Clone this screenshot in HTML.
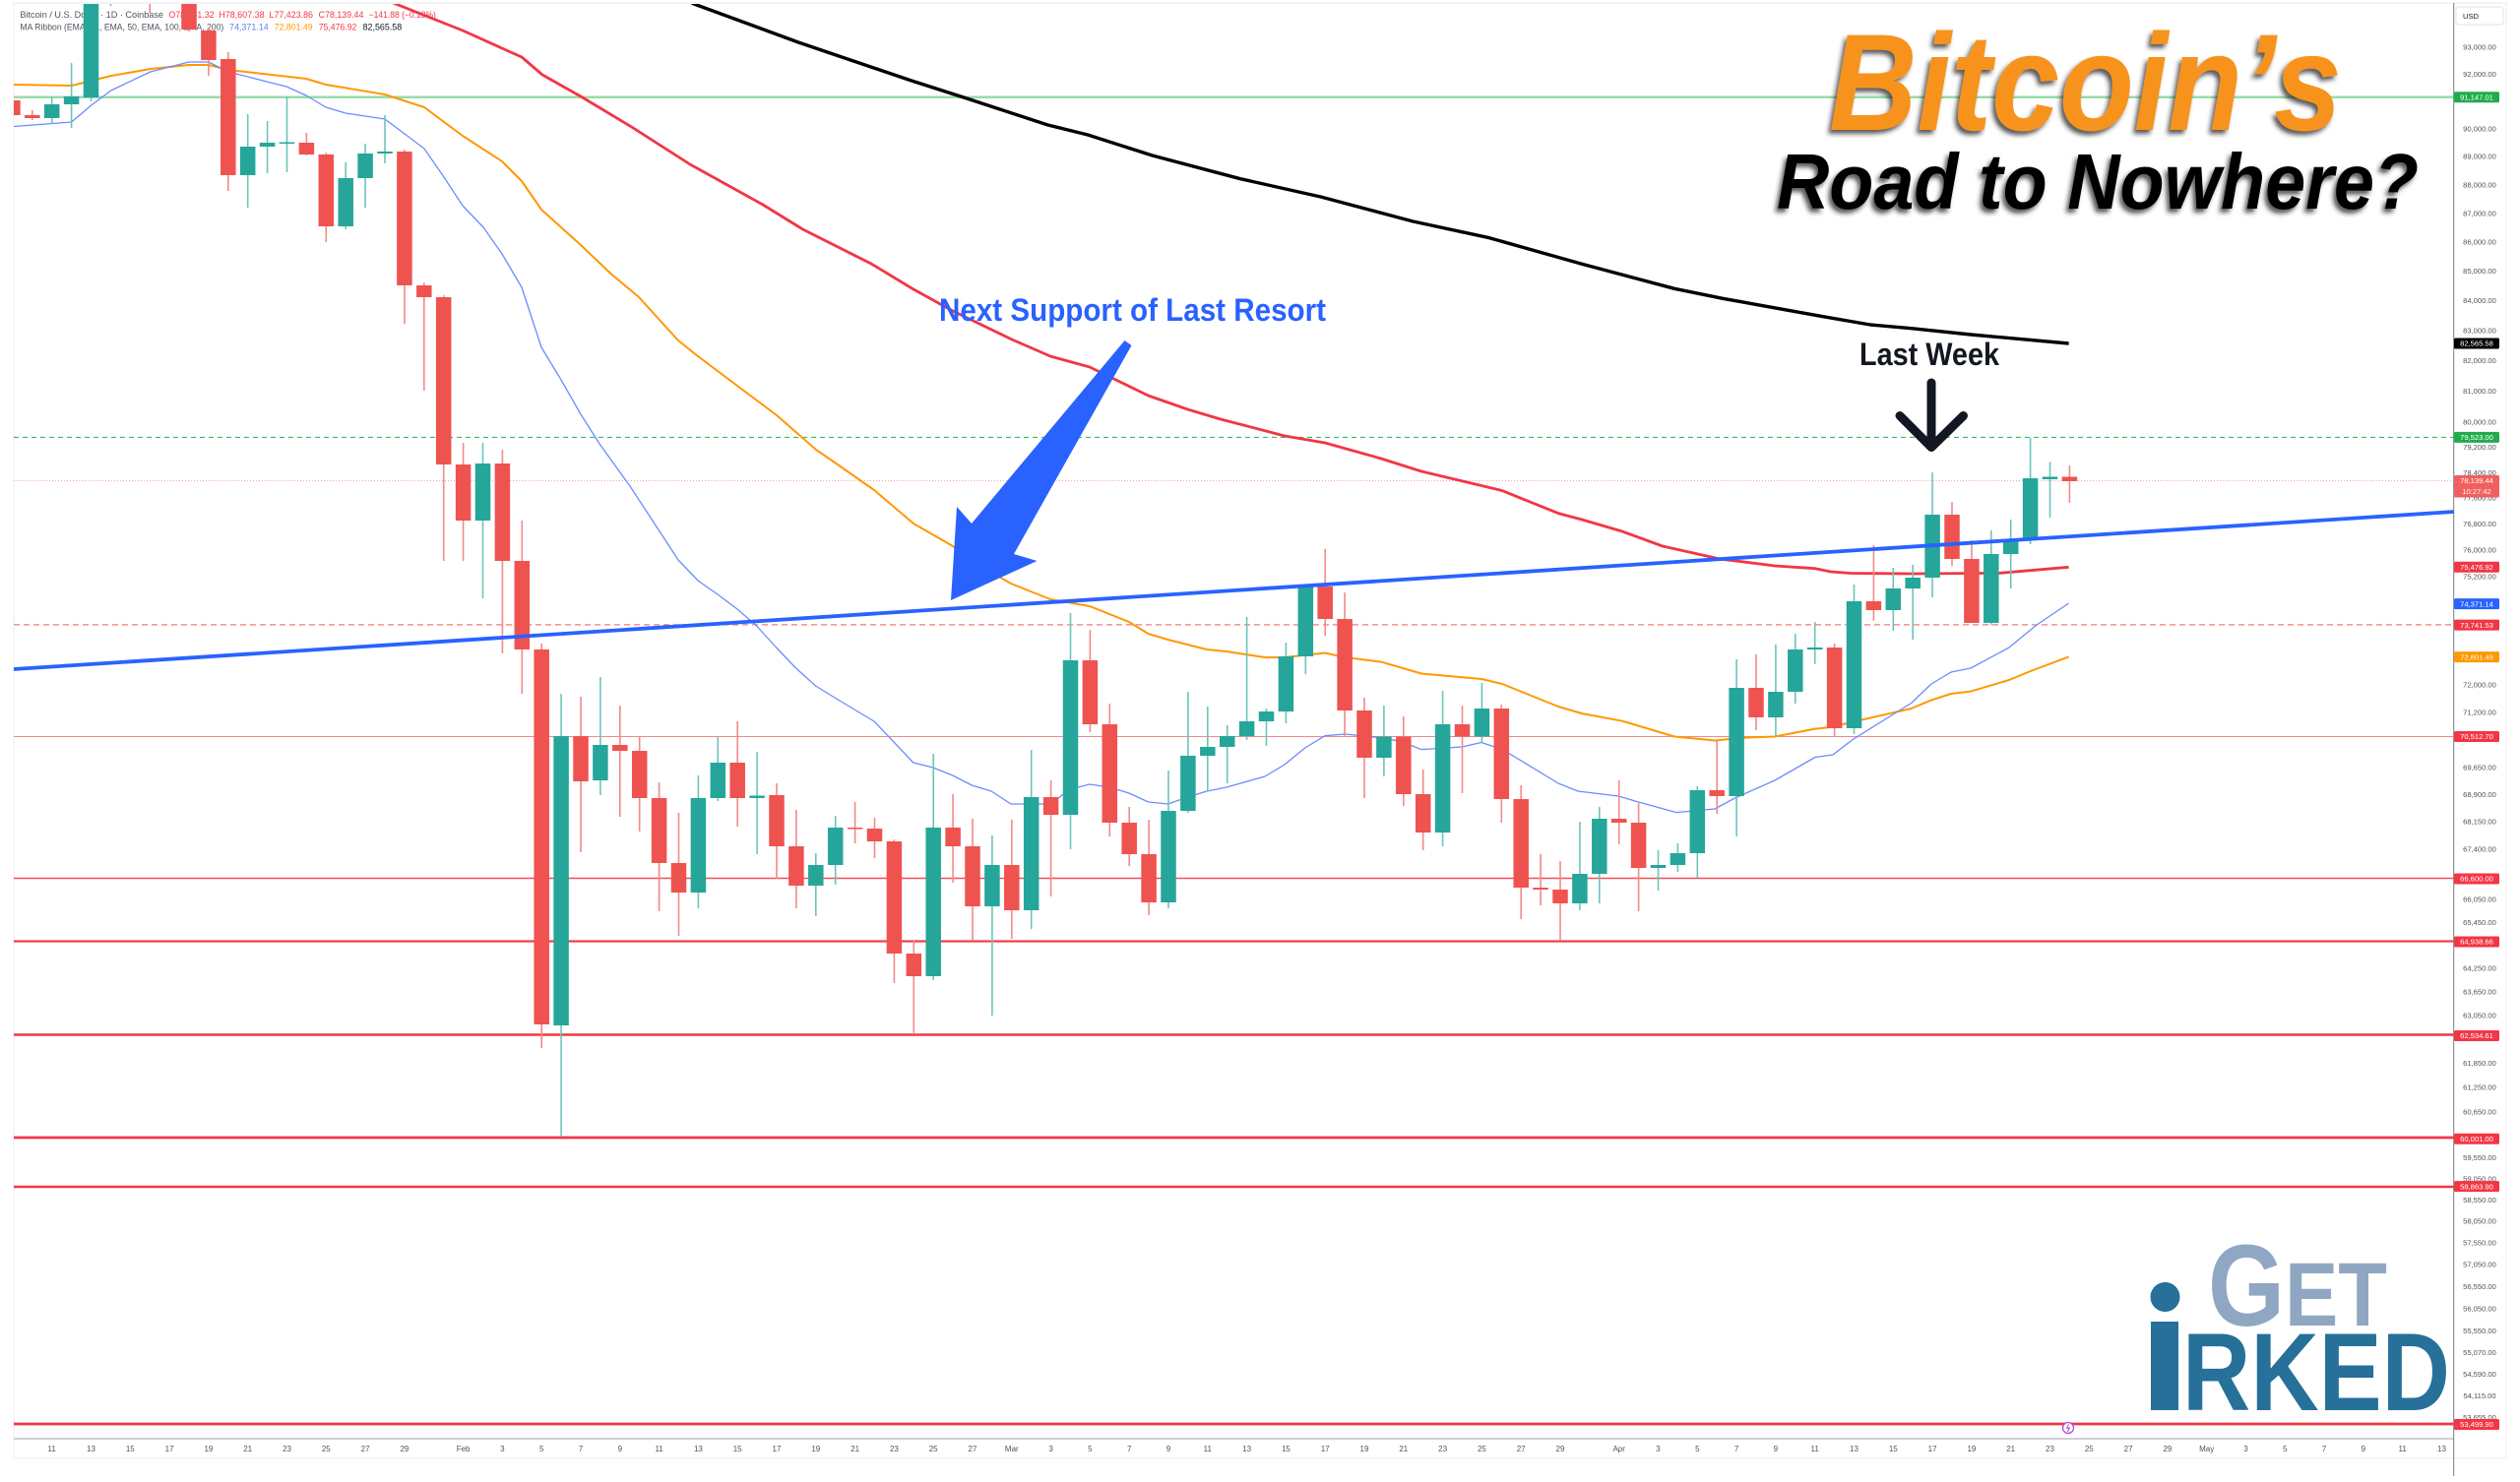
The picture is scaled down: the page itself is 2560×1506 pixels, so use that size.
<!DOCTYPE html>
<html><head><meta charset="utf-8">
<style>
html,body{margin:0;padding:0;background:#fff;}
svg{display:block;}
.g line{stroke:#6cc4bb;stroke-width:1.6}
.g rect{fill:#26a69a}
.r line{stroke:#f3898a;stroke-width:1.6}
.r rect{fill:#ef5350}
.ax{font-family:"Liberation Sans",sans-serif;font-size:7.6px;fill:#50535e;text-anchor:middle}
.bd{font-family:"Liberation Sans",sans-serif;font-size:7.6px;fill:#fff;text-anchor:middle}
.dt{font-family:"Liberation Sans",sans-serif;font-size:8px;fill:#50535e;text-anchor:middle}
.lg{font-family:"Liberation Sans",sans-serif;font-size:8.8px}
</style></head><body>
<svg width="2560" height="1506" viewBox="0 0 2560 1506" xmlns="http://www.w3.org/2000/svg">
<defs>
<clipPath id="pc"><rect x="14" y="4" width="2478.7" height="1457.5"/></clipPath>
<filter id="sh" x="-10%" y="-20%" width="125%" height="150%"><feDropShadow dx="-3" dy="4" stdDeviation="2.5" flood-color="#222" flood-opacity="0.75"/></filter>
</defs>
<rect x="0" y="0" width="2560" height="1506" fill="#fff"/>
<!-- panel borders -->
<line x1="14" y1="3" x2="2546" y2="3" stroke="#e6e8ee" stroke-width="1"/>
<line x1="14" y1="3" x2="14" y2="1482" stroke="#eceef2" stroke-width="1"/>
<line x1="2546" y1="3" x2="2546" y2="1482" stroke="#eceef2" stroke-width="1"/>
<line x1="14" y1="1482" x2="2546" y2="1482" stroke="#eceef2" stroke-width="1"/>

<!-- legend -->
<text class="lg" x="20.4" y="18" textLength="145.6" lengthAdjust="spacingAndGlyphs" fill="#50535e">Bitcoin / U.S. Dollar · 1D · Coinbase</text>
<text class="lg" x="171.4" y="18" textLength="46.2" lengthAdjust="spacingAndGlyphs" fill="#f23645">O78,281.32</text>
<text class="lg" x="222.4" y="18" textLength="46.2" lengthAdjust="spacingAndGlyphs" fill="#f23645">H78,607.38</text>
<text class="lg" x="273.5" y="18" textLength="44.5" lengthAdjust="spacingAndGlyphs" fill="#f23645">L77,423.86</text>
<text class="lg" x="323.7" y="18" textLength="45.7" lengthAdjust="spacingAndGlyphs" fill="#f23645">C78,139.44</text>
<text class="lg" x="374.7" y="18" textLength="68.2" lengthAdjust="spacingAndGlyphs" fill="#f23645">−141.88 (−0.18%)</text>
<text class="lg" x="20.4" y="30.7" textLength="206.9" lengthAdjust="spacingAndGlyphs" fill="#50535e">MA Ribbon (EMA, 21, EMA, 50, EMA, 100, EMA, 200)</text>
<text class="lg" x="233" y="30.7" textLength="39.7" lengthAdjust="spacingAndGlyphs" fill="#5b7fff">74,371.14</text>
<text class="lg" x="278.8" y="30.7" textLength="38.8" lengthAdjust="spacingAndGlyphs" fill="#ff9800">72,801.49</text>
<text class="lg" x="323.7" y="30.7" textLength="38.7" lengthAdjust="spacingAndGlyphs" fill="#f23645">75,476.92</text>
<text class="lg" x="368.6" y="30.7" textLength="39.6" lengthAdjust="spacingAndGlyphs" fill="#131722">82,565.58</text>

<g clip-path="url(#pc)">
<!-- horizontal levels -->
<line x1="14" y1="98.7" x2="2493" y2="98.7" stroke="#98dcaa" stroke-width="2.5"/>
<line x1="14" y1="444.4" x2="2493" y2="444.4" stroke="#22b04f" stroke-width="1" stroke-dasharray="5 4"/>
<line x1="14" y1="488.5" x2="2493" y2="488.5" stroke="#f5a3a3" stroke-width="1" stroke-dasharray="1 2"/>
<line x1="14" y1="634.9" x2="2493" y2="634.9" stroke="#f27a7a" stroke-width="1.2" stroke-dasharray="6 4"/>
<line x1="14" y1="748.5" x2="2493" y2="748.5" stroke="#f08a8a" stroke-width="1"/>
<line x1="14" y1="892.5" x2="2493" y2="892.5" stroke="#f0505a" stroke-width="1.5"/>
<line x1="14" y1="956.5" x2="2493" y2="956.5" stroke="#f0404d" stroke-width="2.2"/>
<line x1="14" y1="1051.5" x2="2493" y2="1051.5" stroke="#f23645" stroke-width="2.6"/>
<line x1="14" y1="1156" x2="2493" y2="1156" stroke="#f23645" stroke-width="2.8"/>
<line x1="14" y1="1206" x2="2493" y2="1206" stroke="#f23645" stroke-width="2.4"/>
<line x1="14" y1="1447" x2="2493" y2="1447" stroke="#f23645" stroke-width="2.8"/>

<!-- EMA lines -->
<polyline fill="none" stroke="#000" stroke-width="3.4" stroke-linejoin="round" points="690,-4 705,4 811,43 926,82 979,99 1064.5,127 1105,137 1170.6,158 1260,181.7 1341.6,200 1435.5,225 1513,241.7 1607,268.3 1701,293.3 1750,303.3 1852,321.7 1900,330 1941.6,333.7 2002,340 2101.6,349"/>
<polyline fill="none" stroke="#f23645" stroke-width="2.8" stroke-linejoin="round" points="386,-4 392,0 470,31 530,58 551,76 590,98 640,128 701,167 775,208 815.5,233 885,268 928,294 968,316 1028,345 1067,362 1107,373 1166.5,402 1206.5,416 1240,426 1305,443 1346,450 1403,466 1444,479 1505,493.5 1526,498.6 1583,521.6 1607,528 1648,540 1689,555 1746,567.8 1803,575 1844,577.7 1860,581 1880,582.5 1941.6,583 2031,582.4 2101.6,576.3"/>
<polyline fill="none" stroke="#ff9800" stroke-width="2" stroke-linejoin="round" points="14,86 73,87 113,77 153,70 192,66 212,66 232,71 311,80 331,86 391,96 431,109 470,138 510,164 530,184 550,213 590,249 620,277.6 649,302 689,346 709,362 749,392 789,422 829,457 848,470 888,498 928,532 968,555 987,570 1027,593 1067,609 1107,616 1147,632 1166.5,644 1186.5,650 1226,660 1246,662 1285,668 1305,668 1346,663.5 1366.5,668 1403,672.6 1444,684.5 1505,690 1526,695 1583,718 1607,725 1648,732.7 1701,748.5 1742,752.5 1770.6,749.7 1803,748.5 1844,740.6 1860,739 1882,733.6 1941.6,720 1962,711.4 1982,705 2002,702.6 2041,691 2064,681.5 2101.6,667.4"/>
<polyline fill="none" stroke="#6b8cff" stroke-width="1.3" stroke-linejoin="round" points="14,128.5 72.7,124 92.7,107 112.7,92 152.7,73 192,63 212,63 232,73 252,78 271,83 291,88 311,97 331,109 351,115 371,118 391,121 411,136 431,151 451,180 470,209 491,231 510,258 530,292 550,353 570,386 590,421 609,451 640,494 689,569 709,590 729,604 749,619 768.6,636 788.6,658 808.6,679 828.6,697 848,709 868,721 888,733 908,754 927.8,775 947.8,780 967.8,788 987.3,798 1007,804 1027,817 1047,817 1067,817 1087,802 1107,797 1127,800 1147,806 1166.5,815 1186.5,817 1206.5,810 1226,804 1246,800 1285,789 1305,777 1325.7,760 1346,747.7 1366.5,746 1403,749.7 1423.7,753.7 1444,761.6 1485,759 1505,754.5 1526,761.6 1546,773.4 1583,796 1603,804 1644,809 1664.5,815 1703,825.6 1742,822 1762.4,811 1803,793 1844,769.5 1862,767 1882,751.6 1941.6,714.5 1962,695 1982,683 2002,679 2041,658 2069,635 2101.6,613"/>

<!-- candles -->
<g class="r" transform="translate(12.9)"><line y1="100" y2="119"/><rect x="-7.75" y="102" width="15.5" height="15"/></g>
<g class="r" transform="translate(32.8)"><line y1="112" y2="122"/><rect x="-7.75" y="117" width="15.5" height="3"/></g>
<g class="g" transform="translate(52.7)"><line y1="98" y2="126"/><rect x="-7.75" y="106" width="15.5" height="14"/></g>
<g class="g" transform="translate(72.6)"><line y1="64" y2="130"/><rect x="-7.75" y="98" width="15.5" height="8"/></g>
<g class="g" transform="translate(92.5)"><line y1="-20" y2="103"/><rect x="-7.75" y="-10" width="15.5" height="109"/></g>
<g class="g" transform="translate(112.4)"><line y1="-60" y2="6"/><rect x="-7.75" y="-60" width="15.5" height="40"/></g>
<g class="r" transform="translate(152.2)"><line y1="-60" y2="13"/><rect x="-7.75" y="-60" width="15.5" height="55"/></g>
<g class="r" transform="translate(192)"><line y1="-40" y2="32"/><rect x="-7.75" y="-30" width="15.5" height="60"/></g>
<g class="r" transform="translate(211.9)"><line y1="28" y2="77"/><rect x="-7.75" y="31" width="15.5" height="30"/></g>
<g class="r" transform="translate(231.8)"><line y1="53" y2="194"/><rect x="-7.75" y="60" width="15.5" height="118"/></g>
<g class="g" transform="translate(251.7)"><line y1="116" y2="211"/><rect x="-7.75" y="149" width="15.5" height="29"/></g>
<g class="g" transform="translate(271.6)"><line y1="123" y2="176"/><rect x="-7.75" y="145" width="15.5" height="4"/></g>
<g class="g" transform="translate(291.5)"><line y1="98" y2="175"/><rect x="-7.75" y="144.5" width="15.5" height="1.5"/></g>
<g class="r" transform="translate(311.4)"><line y1="135" y2="158"/><rect x="-7.75" y="145" width="15.5" height="12"/></g>
<g class="r" transform="translate(331.3)"><line y1="155" y2="246"/><rect x="-7.75" y="157" width="15.5" height="73"/></g>
<g class="g" transform="translate(351.2)"><line y1="165" y2="233"/><rect x="-7.75" y="181" width="15.5" height="49"/></g>
<g class="g" transform="translate(371.1)"><line y1="146" y2="211"/><rect x="-7.75" y="156" width="15.5" height="25"/></g>
<g class="g" transform="translate(391)"><line y1="117" y2="166"/><rect x="-7.75" y="154" width="15.5" height="2"/></g>
<g class="r" transform="translate(410.9)"><line y1="152" y2="329"/><rect x="-7.75" y="154" width="15.5" height="136"/></g>
<g class="r" transform="translate(430.8)"><line y1="287" y2="397"/><rect x="-7.75" y="290" width="15.5" height="12"/></g>
<g class="r" transform="translate(450.7)"><line y1="300" y2="570"/><rect x="-7.75" y="302" width="15.5" height="170"/></g>
<g class="r" transform="translate(470.6)"><line y1="450" y2="570"/><rect x="-7.75" y="472" width="15.5" height="57"/></g>
<g class="g" transform="translate(490.5)"><line y1="450" y2="608"/><rect x="-7.75" y="471" width="15.5" height="58"/></g>
<g class="r" transform="translate(510.4)"><line y1="457" y2="664"/><rect x="-7.75" y="471" width="15.5" height="99"/></g>
<g class="r" transform="translate(530.3)"><line y1="529" y2="705"/><rect x="-7.75" y="570" width="15.5" height="90"/></g>
<g class="r" transform="translate(550.2)"><line y1="654" y2="1065"/><rect x="-7.75" y="660" width="15.5" height="381"/></g>
<g class="g" transform="translate(570.1)"><line y1="705" y2="1155"/><rect x="-7.75" y="748" width="15.5" height="294"/></g>
<g class="r" transform="translate(590)"><line y1="708" y2="866"/><rect x="-7.75" y="748" width="15.5" height="46"/></g>
<g class="g" transform="translate(609.9)"><line y1="688" y2="808"/><rect x="-7.75" y="757" width="15.5" height="36"/></g>
<g class="r" transform="translate(629.8)"><line y1="717" y2="830"/><rect x="-7.75" y="757" width="15.5" height="6"/></g>
<g class="r" transform="translate(649.7)"><line y1="749" y2="845"/><rect x="-7.75" y="763" width="15.5" height="48"/></g>
<g class="r" transform="translate(669.6)"><line y1="795" y2="926"/><rect x="-7.75" y="811" width="15.5" height="66"/></g>
<g class="r" transform="translate(689.5)"><line y1="826" y2="951"/><rect x="-7.75" y="877" width="15.5" height="30"/></g>
<g class="g" transform="translate(709.4)"><line y1="788" y2="923"/><rect x="-7.75" y="811" width="15.5" height="96"/></g>
<g class="g" transform="translate(729.3)"><line y1="749" y2="814"/><rect x="-7.75" y="775" width="15.5" height="36"/></g>
<g class="r" transform="translate(749.2)"><line y1="733" y2="840"/><rect x="-7.75" y="775" width="15.5" height="36"/></g>
<g class="g" transform="translate(769.1)"><line y1="764" y2="868"/><rect x="-7.75" y="808.5" width="15.5" height="2.5"/></g>
<g class="r" transform="translate(789)"><line y1="796" y2="893"/><rect x="-7.75" y="808" width="15.5" height="52"/></g>
<g class="r" transform="translate(808.9)"><line y1="823" y2="923"/><rect x="-7.75" y="860" width="15.5" height="40"/></g>
<g class="g" transform="translate(828.8)"><line y1="867" y2="931"/><rect x="-7.75" y="879" width="15.5" height="21"/></g>
<g class="g" transform="translate(848.7)"><line y1="829" y2="899"/><rect x="-7.75" y="841" width="15.5" height="38"/></g>
<g class="r" transform="translate(868.6)"><line y1="815" y2="857"/><rect x="-7.75" y="841" width="15.5" height="1.5"/></g>
<g class="r" transform="translate(888.5)"><line y1="831" y2="872"/><rect x="-7.75" y="842" width="15.5" height="13"/></g>
<g class="r" transform="translate(908.4)"><line y1="853" y2="999"/><rect x="-7.75" y="855" width="15.5" height="114"/></g>
<g class="r" transform="translate(928.3)"><line y1="955" y2="1051"/><rect x="-7.75" y="969" width="15.5" height="23"/></g>
<g class="g" transform="translate(948.2)"><line y1="766" y2="996"/><rect x="-7.75" y="841" width="15.5" height="151"/></g>
<g class="r" transform="translate(968.1)"><line y1="807" y2="897"/><rect x="-7.75" y="841" width="15.5" height="19"/></g>
<g class="r" transform="translate(988)"><line y1="832" y2="956"/><rect x="-7.75" y="860" width="15.5" height="61"/></g>
<g class="g" transform="translate(1007.9)"><line y1="849" y2="1032"/><rect x="-7.75" y="879" width="15.5" height="42"/></g>
<g class="r" transform="translate(1027.8)"><line y1="833" y2="954"/><rect x="-7.75" y="879" width="15.5" height="46"/></g>
<g class="g" transform="translate(1047.7)"><line y1="762" y2="944"/><rect x="-7.75" y="810" width="15.5" height="115"/></g>
<g class="r" transform="translate(1067.6)"><line y1="793" y2="911"/><rect x="-7.75" y="810" width="15.5" height="18"/></g>
<g class="g" transform="translate(1087.5)"><line y1="623" y2="863"/><rect x="-7.75" y="671" width="15.5" height="157"/></g>
<g class="r" transform="translate(1107.4)"><line y1="640" y2="744"/><rect x="-7.75" y="671" width="15.5" height="65"/></g>
<g class="r" transform="translate(1127.3)"><line y1="715" y2="850"/><rect x="-7.75" y="736" width="15.5" height="100"/></g>
<g class="r" transform="translate(1147.2)"><line y1="820" y2="880"/><rect x="-7.75" y="836" width="15.5" height="32"/></g>
<g class="r" transform="translate(1167.1)"><line y1="833" y2="930"/><rect x="-7.75" y="868" width="15.5" height="49"/></g>
<g class="g" transform="translate(1187)"><line y1="783" y2="923"/><rect x="-7.75" y="824" width="15.5" height="93"/></g>
<g class="g" transform="translate(1206.9)"><line y1="703" y2="826"/><rect x="-7.75" y="768" width="15.5" height="56"/></g>
<g class="g" transform="translate(1226.8)"><line y1="718" y2="804"/><rect x="-7.75" y="759" width="15.5" height="9"/></g>
<g class="g" transform="translate(1246.7)"><line y1="737" y2="796"/><rect x="-7.75" y="748" width="15.5" height="11"/></g>
<g class="g" transform="translate(1266.6)"><line y1="627" y2="752"/><rect x="-7.75" y="733" width="15.5" height="15"/></g>
<g class="g" transform="translate(1286.5)"><line y1="720" y2="758"/><rect x="-7.75" y="723" width="15.5" height="10"/></g>
<g class="g" transform="translate(1306.4)"><line y1="653" y2="735"/><rect x="-7.75" y="667" width="15.5" height="56"/></g>
<g class="g" transform="translate(1326.3)"><line y1="596" y2="685"/><rect x="-7.75" y="596" width="15.5" height="71"/></g>
<g class="r" transform="translate(1346.2)"><line y1="558" y2="646"/><rect x="-7.75" y="596" width="15.5" height="33"/></g>
<g class="r" transform="translate(1366.1)"><line y1="602" y2="748"/><rect x="-7.75" y="629" width="15.5" height="93"/></g>
<g class="r" transform="translate(1386)"><line y1="709" y2="811"/><rect x="-7.75" y="722" width="15.5" height="48"/></g>
<g class="g" transform="translate(1405.9)"><line y1="717" y2="789"/><rect x="-7.75" y="748.5" width="15.5" height="21.5"/></g>
<g class="r" transform="translate(1425.8)"><line y1="728" y2="819"/><rect x="-7.75" y="748.5" width="15.5" height="58.5"/></g>
<g class="r" transform="translate(1445.7)"><line y1="782" y2="864"/><rect x="-7.75" y="807" width="15.5" height="39"/></g>
<g class="g" transform="translate(1465.6)"><line y1="702" y2="860"/><rect x="-7.75" y="736" width="15.5" height="110"/></g>
<g class="r" transform="translate(1485.5)"><line y1="717" y2="806"/><rect x="-7.75" y="736" width="15.5" height="12.5"/></g>
<g class="g" transform="translate(1505.4)"><line y1="694" y2="754"/><rect x="-7.75" y="720" width="15.5" height="28.5"/></g>
<g class="r" transform="translate(1525.3)"><line y1="716" y2="836"/><rect x="-7.75" y="720" width="15.5" height="92"/></g>
<g class="r" transform="translate(1545.2)"><line y1="798" y2="934"/><rect x="-7.75" y="812" width="15.5" height="90"/></g>
<g class="r" transform="translate(1565.1)"><line y1="868" y2="920"/><rect x="-7.75" y="902" width="15.5" height="2"/></g>
<g class="r" transform="translate(1585)"><line y1="875" y2="956"/><rect x="-7.75" y="904" width="15.5" height="14"/></g>
<g class="g" transform="translate(1604.9)"><line y1="835" y2="925"/><rect x="-7.75" y="888" width="15.5" height="30"/></g>
<g class="g" transform="translate(1624.8)"><line y1="820" y2="918"/><rect x="-7.75" y="832" width="15.5" height="56"/></g>
<g class="r" transform="translate(1644.7)"><line y1="793" y2="858"/><rect x="-7.75" y="832" width="15.5" height="4"/></g>
<g class="r" transform="translate(1664.6)"><line y1="816" y2="926"/><rect x="-7.75" y="836" width="15.5" height="46"/></g>
<g class="g" transform="translate(1684.5)"><line y1="864" y2="905"/><rect x="-7.75" y="879" width="15.5" height="3"/></g>
<g class="g" transform="translate(1704.4)"><line y1="857" y2="886"/><rect x="-7.75" y="867" width="15.5" height="12"/></g>
<g class="g" transform="translate(1724.3)"><line y1="799" y2="892"/><rect x="-7.75" y="803" width="15.5" height="64"/></g>
<g class="r" transform="translate(1744.2)"><line y1="752" y2="827"/><rect x="-7.75" y="803" width="15.5" height="6"/></g>
<g class="g" transform="translate(1764.1)"><line y1="670" y2="850"/><rect x="-7.75" y="699" width="15.5" height="110"/></g>
<g class="r" transform="translate(1784)"><line y1="665" y2="742"/><rect x="-7.75" y="699" width="15.5" height="30"/></g>
<g class="g" transform="translate(1803.9)"><line y1="655" y2="748"/><rect x="-7.75" y="703" width="15.5" height="26"/></g>
<g class="g" transform="translate(1823.8)"><line y1="644" y2="715"/><rect x="-7.75" y="660" width="15.5" height="43"/></g>
<g class="g" transform="translate(1843.7)"><line y1="632" y2="675"/><rect x="-7.75" y="658" width="15.5" height="2"/></g>
<g class="r" transform="translate(1863.6)"><line y1="654" y2="748"/><rect x="-7.75" y="658" width="15.5" height="82"/></g>
<g class="g" transform="translate(1883.5)"><line y1="594" y2="746"/><rect x="-7.75" y="611" width="15.5" height="129"/></g>
<g class="r" transform="translate(1903.4)"><line y1="554" y2="631"/><rect x="-7.75" y="611" width="15.5" height="9"/></g>
<g class="g" transform="translate(1923.3)"><line y1="577" y2="641"/><rect x="-7.75" y="598" width="15.5" height="22"/></g>
<g class="g" transform="translate(1943.2)"><line y1="574" y2="650"/><rect x="-7.75" y="587" width="15.5" height="11"/></g>
<g class="g" transform="translate(1963.1)"><line y1="480" y2="607"/><rect x="-7.75" y="523" width="15.5" height="64"/></g>
<g class="r" transform="translate(1983)"><line y1="510" y2="575"/><rect x="-7.75" y="523" width="15.5" height="45"/></g>
<g class="r" transform="translate(2002.9)"><line y1="549" y2="633"/><rect x="-7.75" y="568" width="15.5" height="65"/></g>
<g class="g" transform="translate(2022.8)"><line y1="539" y2="635"/><rect x="-7.75" y="563" width="15.5" height="70"/></g>
<g class="g" transform="translate(2042.7)"><line y1="528" y2="598"/><rect x="-7.75" y="548" width="15.5" height="15"/></g>
<g class="g" transform="translate(2062.6)"><line y1="445" y2="553"/><rect x="-7.75" y="486" width="15.5" height="62"/></g>
<g class="g" transform="translate(2082.5)"><line y1="469.5" y2="526"/><rect x="-7.75" y="484.5" width="15.5" height="2.5"/></g>
<g class="r" transform="translate(2102.4)"><line y1="473" y2="511"/><rect x="-7.75" y="484.5" width="15.5" height="4.5"/></g>

<!-- trendline -->
<line x1="14" y1="680" x2="2493" y2="520" stroke="#2962ff" stroke-width="3.8"/>
</g>

<!-- news icon -->
<circle cx="2101" cy="1451" r="5.5" fill="#fff" stroke="#b44bd8" stroke-width="1.3"/>
<path d="M2101.5 1447.5 L2099.5 1451.5 L2102.5 1451 L2100.5 1455" fill="none" stroke="#b44bd8" stroke-width="1"/>

<!-- axes lines -->
<line x1="14" y1="1462" x2="2493" y2="1462" stroke="#b2b5be" stroke-width="1.3"/>
<line x1="2492.7" y1="3" x2="2492.7" y2="1500" stroke="#787b86" stroke-width="1"/>

<!-- date labels -->
<g class="dt">
<text x="52.7" y="1475">11</text><text x="92.5" y="1475">13</text><text x="132.3" y="1475">15</text><text x="172.1" y="1475">17</text><text x="211.9" y="1475">19</text><text x="251.7" y="1475">21</text><text x="291.5" y="1475">23</text><text x="331.3" y="1475">25</text><text x="371.1" y="1475">27</text><text x="410.9" y="1475">29</text>
<text x="470.6" y="1475">Feb</text><text x="510.4" y="1475">3</text><text x="550.2" y="1475">5</text><text x="590" y="1475">7</text><text x="629.8" y="1475">9</text><text x="669.6" y="1475">11</text><text x="709.4" y="1475">13</text><text x="749.2" y="1475">15</text><text x="789" y="1475">17</text><text x="828.8" y="1475">19</text><text x="868.6" y="1475">21</text><text x="908.4" y="1475">23</text><text x="948.2" y="1475">25</text><text x="988" y="1475">27</text>
<text x="1027.8" y="1475">Mar</text><text x="1067.6" y="1475">3</text><text x="1107.4" y="1475">5</text><text x="1147.2" y="1475">7</text><text x="1187" y="1475">9</text><text x="1226.8" y="1475">11</text><text x="1266.6" y="1475">13</text><text x="1306.4" y="1475">15</text><text x="1346.2" y="1475">17</text><text x="1386" y="1475">19</text><text x="1425.8" y="1475">21</text><text x="1465.6" y="1475">23</text><text x="1505.4" y="1475">25</text><text x="1545.2" y="1475">27</text><text x="1585" y="1475">29</text>
<text x="1644.7" y="1475">Apr</text><text x="1684.5" y="1475">3</text><text x="1724.3" y="1475">5</text><text x="1764.1" y="1475">7</text><text x="1803.9" y="1475">9</text><text x="1843.7" y="1475">11</text><text x="1883.5" y="1475">13</text><text x="1923.3" y="1475">15</text><text x="1963.1" y="1475">17</text><text x="2002.9" y="1475">19</text><text x="2042.7" y="1475">21</text><text x="2082.5" y="1475">23</text><text x="2122.3" y="1475">25</text><text x="2162.1" y="1475">27</text><text x="2201.9" y="1475">29</text>
<text x="2241.7" y="1475">May</text><text x="2281.5" y="1475">3</text><text x="2321.3" y="1475">5</text><text x="2361.1" y="1475">7</text><text x="2400.9" y="1475">9</text><text x="2440.7" y="1475">11</text><text x="2480.5" y="1475">13</text>
</g>

<!-- price axis -->
<rect x="2495" y="7" width="48" height="18" rx="3" fill="#fff" stroke="#e0e3eb" stroke-width="1"/>
<text x="2502" y="19" font-family="Liberation Sans, sans-serif" font-size="7.6" fill="#131722">USD</text>
<g class="ax">
<text x="2519" y="50.5">93,000.00</text>
<text x="2519" y="77.8">92,000.00</text>
<text x="2519" y="133.5">90,000.00</text>
<text x="2519" y="161.7">89,000.00</text>
<text x="2519" y="190.4">88,000.00</text>
<text x="2519" y="219.3">87,000.00</text>
<text x="2519" y="248.6">86,000.00</text>
<text x="2519" y="278.2">85,000.00</text>
<text x="2519" y="308.1">84,000.00</text>
<text x="2519" y="338.4">83,000.00</text>
<text x="2519" y="369.1">82,000.00</text>
<text x="2519" y="400.2">81,000.00</text>
<text x="2519" y="431.6">80,000.00</text>
<text x="2519" y="457.1">79,200.00</text>
<text x="2519" y="482.8">78,400.00</text>
<text x="2519" y="508.7">77,600.00</text>
<text x="2519" y="535">76,800.00</text>
<text x="2519" y="561.5">76,000.00</text>
<text x="2519" y="588.3">75,200.00</text>
<text x="2519" y="698.3">72,000.00</text>
<text x="2519" y="726.6">71,200.00</text>
<text x="2519" y="782.4">69,650.00</text>
<text x="2519" y="809.8">68,900.00</text>
<text x="2519" y="837.5">68,150.00</text>
<text x="2519" y="865.5">67,400.00</text>
<text x="2519" y="916.7">66,050.00</text>
<text x="2519" y="939.8">65,450.00</text>
<text x="2519" y="986.6">64,250.00</text>
<text x="2519" y="1010.4">63,650.00</text>
<text x="2519" y="1034.4">63,050.00</text>
<text x="2519" y="1083">61,850.00</text>
<text x="2519" y="1107.7">61,250.00</text>
<text x="2519" y="1132.6">60,650.00</text>
<text x="2519" y="1179">59,550.00</text>
<text x="2519" y="1200.3">59,050.00</text>
<text x="2519" y="1221.8">58,550.00</text>
<text x="2519" y="1243.5">58,050.00</text>
<text x="2519" y="1265.4">57,550.00</text>
<text x="2519" y="1287.5">57,050.00</text>
<text x="2519" y="1309.8">56,550.00</text>
<text x="2519" y="1332.3">56,050.00</text>
<text x="2519" y="1355">55,550.00</text>
<text x="2519" y="1376.9">55,070.00</text>
<text x="2519" y="1399.1">54,590.00</text>
<text x="2519" y="1421.2">54,115.00</text>
<text x="2519" y="1442.8">53,655.00</text>
</g>
<!-- badges -->
<g>
<rect x="2493" y="93.2" width="46" height="11" rx="1.5" fill="#22ab4b"/>
<rect x="2493" y="343.5" width="46" height="11" rx="1.5" fill="#000"/>
<rect x="2493" y="438.9" width="46" height="11" rx="1.5" fill="#22ab4b"/>
<rect x="2493" y="483" width="46" height="22.5" rx="1.5" fill="#f0605e"/>
<rect x="2493" y="570.8" width="46" height="11" rx="1.5" fill="#f23645"/>
<rect x="2493" y="608.1" width="46" height="11" rx="1.5" fill="#2962ff"/>
<rect x="2493" y="629.6" width="46" height="11" rx="1.5" fill="#f23645"/>
<rect x="2493" y="662.1" width="46" height="11" rx="1.5" fill="#ff9800"/>
<rect x="2493" y="743" width="46" height="11" rx="1.5" fill="#f23645"/>
<rect x="2493" y="887.5" width="46" height="11" rx="1.5" fill="#f23645"/>
<rect x="2493" y="951.5" width="46" height="11" rx="1.5" fill="#f23645"/>
<rect x="2493" y="1047" width="46" height="11" rx="1.5" fill="#f23645"/>
<rect x="2493" y="1151.7" width="46" height="11" rx="1.5" fill="#f23645"/>
<rect x="2493" y="1200.1" width="46" height="11" rx="1.5" fill="#f23645"/>
<rect x="2493" y="1442" width="46" height="11" rx="1.5" fill="#f23645"/>
</g>
<g class="bd">
<text x="2516" y="101.4">91,147.01</text>
<text x="2516" y="351.7">82,565.58</text>
<text x="2516" y="447.1">79,523.00</text>
<text x="2516" y="491.2">78,139.44</text>
<text x="2516" y="502">10:27:42</text>
<text x="2516" y="579">75,476.92</text>
<text x="2516" y="616.3">74,371.14</text>
<text x="2516" y="637.8">73,741.53</text>
<text x="2516" y="670.3">72,801.49</text>
<text x="2516" y="751.2">70,512.70</text>
<text x="2516" y="895.7">66,600.00</text>
<text x="2516" y="959.7">64,938.66</text>
<text x="2516" y="1055.2">62,534.61</text>
<text x="2516" y="1159.9">60,001.00</text>
<text x="2516" y="1208.3">58,863.90</text>
<text x="2516" y="1450.2">53,499.90</text>
</g>

<!-- annotations -->
<polygon points="1142.5,346 1149.5,351 1030,563 1053.5,570 966,610 972,515 987,532" fill="#2962ff"/>
<text x="954" y="326" font-family="Liberation Sans, sans-serif" font-weight="bold" font-size="32" fill="#2962ff" textLength="393" lengthAdjust="spacingAndGlyphs">Next Support of Last Resort</text>

<text x="1889" y="371" font-family="Liberation Sans, sans-serif" font-weight="bold" font-size="32" fill="#131722" textLength="142" lengthAdjust="spacingAndGlyphs">Last Week</text>
<path d="M1962 389 L1962 454 M1930 422.5 L1962 454.5 L1994.5 422.5" fill="none" stroke="#131722" stroke-width="9" stroke-linecap="round" stroke-linejoin="round"/>

<!-- title -->
<g filter="url(#sh)">
<text x="1858" y="132" font-family="Liberation Sans, sans-serif" font-weight="bold" font-style="italic" font-size="140" fill="#f7931e" textLength="521" lengthAdjust="spacingAndGlyphs">Bitcoin’s</text>
<text x="1805" y="212" font-family="Liberation Sans, sans-serif" font-weight="bold" font-style="italic" font-size="80" fill="#000" textLength="652" lengthAdjust="spacingAndGlyphs">Road to Nowhere?</text>
</g>

<!-- logo -->
<text x="2243" y="1347" font-family="Liberation Sans, sans-serif" font-weight="bold" font-size="118" fill="#8fa7c3" textLength="78" lengthAdjust="spacingAndGlyphs">G</text>
<text x="2321" y="1347" font-family="Liberation Sans, sans-serif" font-weight="bold" font-size="92" fill="#8fa7c3" textLength="104" lengthAdjust="spacingAndGlyphs">ET</text>
<circle cx="2199.5" cy="1318" r="15" fill="#26709a"/>
<rect x="2185" y="1343" width="28" height="90" fill="#26709a"/>
<text x="2217" y="1433" font-family="Liberation Sans, sans-serif" font-weight="bold" font-size="112" fill="#26709a" textLength="272" lengthAdjust="spacingAndGlyphs">RKED</text>
</svg>
</body></html>
